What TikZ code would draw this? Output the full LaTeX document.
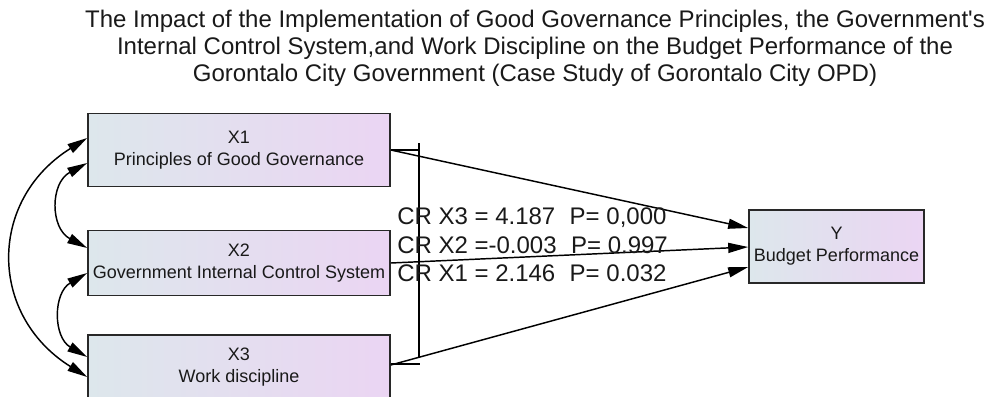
\documentclass[tikz,border=0pt]{standalone}
\usepackage{fontspec}
\setmainfont{Liberation Sans}
\usetikzlibrary{arrows.meta, calc}
\definecolor{boxleft}{RGB}{221, 231, 236}
\definecolor{boxright}{RGB}{235, 213, 243}
\definecolor{edgegray}{RGB}{40, 40, 40}
\definecolor{textgray}{RGB}{25, 25, 25}

\begin{document}
\begin{tikzpicture}[x=0.75pt, y=-0.75pt,
    >={Triangle[length=15pt, width=7.5pt]},
    varbox/.style={rectangle, draw=edgegray, line width=1.2pt, left color=boxleft, right color=boxright, inner sep=0pt, minimum width=226.5pt, text=textgray, align=center, font=\fontsize{13.5pt}{16.5pt}\selectfont},
    heading/.style={align=center, inner sep=0pt, text=textgray, font=\fontsize{18pt}{20.25pt}\selectfont},
    crtext/.style={align=left, inner sep=0pt, anchor=west, text=textgray, font=\fontsize{18pt}{21.4pt}\selectfont},
    effect/.style={->, line width=1.1pt, black},
    cov/.style={<->, line width=1.1pt, black},
    bar/.style={line width=1.1pt, black},
]

\useasboundingbox (0,0) rectangle (995,396);

\node[heading] (ttl) at (535,48) {The Impact of the Implementation of Good Governance Principles, the Government\textquotesingle s\\Internal Control System,and Work Discipline on the Budget Performance of the\\Gorontalo City Government (Case Study of Gorontalo City OPD)};

\node[varbox, minimum height=54.75pt] (x1) at (239,150)   {X1\\Principles of Good Governance};
\node[varbox, minimum height=48.75pt] (x2) at (239,263)   {X2\\Government Internal Control System};
\node[varbox, minimum height=48.75pt] (x3) at (239,367.5) {X3\\Work discipline};
\node[varbox, minimum width=131.25pt, minimum height=54.75pt] (y) at (836.5,246.5) {Y\\Budget Performance};

\draw[bar] (419,143) -- (419,357);
\draw[bar] (x1.east) -- ++(29,0);
\draw[bar] ($(x3.east)+(0,-3.5)$) -- ++(29,0);

\draw[effect] (x1.east) -- ($(y.west)+(0,-18.5)$);
\draw[effect] (x2.east) -- ($(y.west)+(0,0.5)$);
\draw[effect] ($(x3.east)+(0,-2.5)$) -- ($(y.west)+(0,20.5)$);

\node[crtext] (cr) at (397,245) {CR X3 = 4.187\hspace{0.6em}P= 0,000\\CR X2 =-0.003\hspace{0.6em}P= 0.997\\CR X1 = 2.146\hspace{0.6em}P= 0.032};

\draw[cov] ($(x1.west)+(0,-12)$) .. controls (-12,200) and (-12,315) .. ($(x3.west)+(0,9.5)$);
\draw[cov] ($(x1.west)+(0,13)$) .. controls (50,183) and (50,228) .. ($(x2.west)+(0,-15)$);
\draw[cov] ($(x2.west)+(0,10)$) .. controls (53,293) and (53,337) .. ($(x3.west)+(0,-10.5)$);

\end{tikzpicture}
\end{document}
